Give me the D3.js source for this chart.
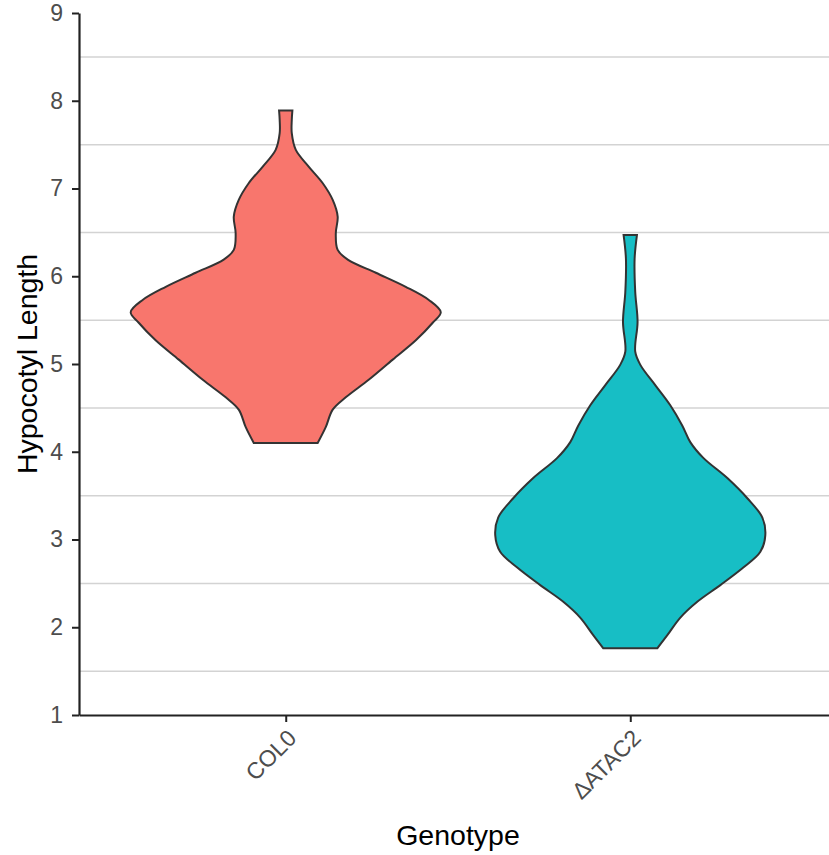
<!DOCTYPE html>
<html lang="en">
<head>
    <meta charset="UTF-8">
    <title>Hypocotyl Length by Genotype</title>
    <script src="https://d3js.org/d3.v7.min.js"></script>
    <style>
        body { margin: 0; background: #fff; }
        svg { font-family: "Liberation Sans", Arial, Helvetica, sans-serif; }
    </style>
</head>
<body>
<script>
// genotypes on the x axis
const genotypes = ["COL0", "\u0394ATAC2"];
const fills = ["#F8766D", "#17BEC5"];

// violin outlines: length values and relative density
const colLength  = [4.10, 4.28, 4.48, 4.62, 4.82, 5.05, 5.27, 5.47, 5.59, 5.73, 5.88, 6.04, 6.19, 6.30, 6.49, 6.68, 6.87, 7.06, 7.25, 7.44, 7.63, 7.78, 7.89];
const colDensity = [0.206, 0.258, 0.303, 0.387, 0.535, 0.690, 0.839, 0.948, 1.000, 0.923, 0.774, 0.581, 0.400, 0.335, 0.323, 0.335, 0.303, 0.239, 0.148, 0.065, 0.039, 0.039, 0.043];

const atacLength  = [1.76, 1.91, 2.11, 2.29, 2.48, 2.68, 2.86, 3.05, 3.25, 3.47, 3.70, 3.93, 4.11, 4.30, 4.53, 4.76, 4.99, 5.14, 5.48, 5.82, 6.20, 6.47];
const atacDensity = [0.174, 0.239, 0.323, 0.432, 0.581, 0.729, 0.839, 0.871, 0.852, 0.755, 0.626, 0.471, 0.387, 0.335, 0.258, 0.161, 0.065, 0.032, 0.047, 0.032, 0.028, 0.043];

const yTicks = [1, 2, 3, 4, 5, 6, 7, 8, 9];
const yGrid = [1.5, 2.5, 3.5, 4.5, 5.5, 6.5, 7.5, 8.5];

const violins = [
    {name: genotypes[0], length: colLength, density: colDensity},
    {name: genotypes[1], length: atacLength, density: atacDensity}
];

const width = 829, height = 855;
const mLeft = 79, mTop = 13, mBottom = 715, mRight = 837;

const svg = d3.select("body").append("svg")
    .attr("width", width)
    .attr("height", height);

const x = d3.scalePoint()
    .domain(genotypes)
    .range([mLeft, mRight])
    .padding(0.6);

const y = d3.scaleLinear()
    .domain([1, 9])
    .range([mBottom, mTop]);

// half width of a violin, 0.9 of a category step at most
const w = d3.scaleLinear()
    .domain([0, 1])
    .range([0, x.step() * 0.45]);

const color = d3.scaleOrdinal().domain(genotypes).range(fills);

// grid
svg.append("g")
    .selectAll("line")
    .data(yGrid)
    .enter().append("line")
    .attr("x1", mLeft)
    .attr("x2", mRight)
    .attr("y1", d => y(d))
    .attr("y2", d => y(d))
    .attr("stroke", "#d3d3d3")
    .attr("stroke-width", 1.5);

// violins
svg.append("g")
    .selectAll("path")
    .data(violins)
    .enter().append("path")
    .attr("d", v => {
        const cx = x(v.name);
        const pts = v.length.map((l, i) => ({l: l, d: v.density[i]}));
        return d3.area()
            .y(p => y(p.l))
            .x0(p => cx - w(p.d))
            .x1(p => cx + w(p.d))
            .curve(d3.curveCatmullRom.alpha(0.5))(pts);
    })
    .attr("fill", v => color(v.name))
    .attr("stroke", "#333333")
    .attr("stroke-width", 2);

// y axis
const yAxis = svg.append("g")
    .attr("transform", `translate(${mLeft},0)`)
    .call(d3.axisLeft(y).tickValues(yTicks).tickFormat(d3.format("d")).tickSize(7).tickSizeOuter(0).tickPadding(9));

// x axis
const xAxis = svg.append("g")
    .attr("transform", `translate(0,${mBottom})`)
    .call(d3.axisBottom(x).tickSize(7).tickSizeOuter(0));

[yAxis, xAxis].forEach(a => {
    a.select(".domain").attr("stroke", "#222").attr("stroke-width", 2.2);
    a.selectAll(".tick line").attr("stroke", "#222").attr("stroke-width", 2);
    a.selectAll(".tick text")
        .attr("fill", "#4d4d4d")
        .style("font-size", "23px")
        .style("font-family", "\"Liberation Sans\", Arial, sans-serif");
});

xAxis.selectAll(".tick text")
    .attr("text-anchor", "end")
    .attr("x", 0)
    .attr("y", 0)
    .attr("dy", "0.71em")
    .attr("transform", "translate(0,13) rotate(-45)");

// titles
svg.append("text")
    .attr("x", (mLeft + mRight) / 2)
    .attr("y", 845)
    .attr("text-anchor", "middle")
    .style("font-size", "28.5px")
    .attr("fill", "#000")
    .text("Genotype");

svg.append("text")
    .attr("transform", `translate(37,${(mTop + mBottom) / 2}) rotate(-90)`)
    .attr("text-anchor", "middle")
    .style("font-size", "28.5px")
    .attr("fill", "#000")
    .text("Hypocotyl Length");
</script>
</body>
</html>
